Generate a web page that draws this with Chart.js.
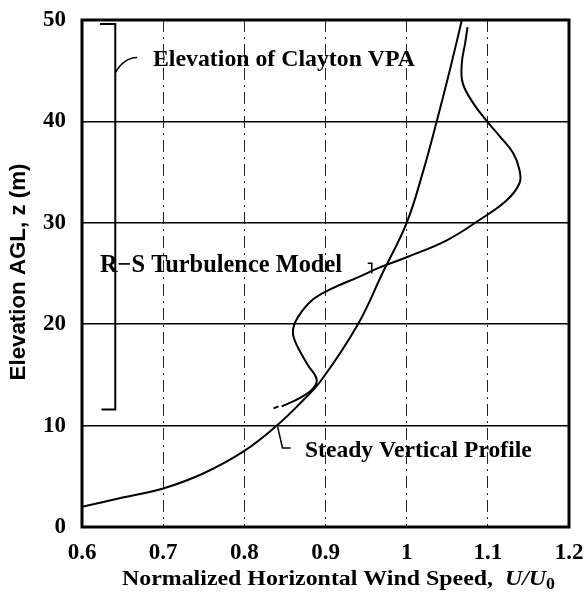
<!DOCTYPE html>
<html>
<head>
<meta charset="utf-8">
<script src="https://cdn.jsdelivr.net/npm/chart.js@4/dist/chart.umd.min.js"></script>
<style>
  html, body { margin: 0; padding: 0; background: #fff; }
  #wrap { width: 584px; height: 597px; }
</style>
</head>
<body>
<div id="wrap"><canvas id="grafico" width="584" height="597"></canvas></div>
<script>
// steady vertical profile (U/U0, z)
const steadyU = [0.6, 0.65, 0.7, 0.75, 0.8, 0.84, 0.87, 0.895, 0.94, 0.97, 1.0, 1.02, 1.037, 1.053, 1.068];
const steadyZ = [2.0, 2.9, 3.8, 5.3, 7.5, 10, 12.3, 14.5, 20, 25, 30, 35, 40, 45, 50];

// R-S turbulence model
const rsU = [0.846, 0.852, 0.868, 0.885, 0.889, 0.878, 0.862, 0.860, 0.866, 0.884, 0.905, 0.942, 0.967, 1.0, 1.05, 1.09, 1.123, 1.139, 1.139, 1.131, 1.115, 1.099, 1.082, 1.069, 1.068, 1.072, 1.075];
const rsZ = [11.9, 12.1, 12.7, 13.7, 14.6, 16.0, 18.4, 19.5, 20.7, 22.4, 23.4, 24.7, 25.6, 26.6, 28.3, 30.3, 32.2, 33.9, 35.2, 36.9, 38.5, 40, 41.8, 43.8, 45.8, 47.7, 49.3];
// short dash at the start of the R-S curve
const rsDashU = [0.836, 0.842];
const rsDashZ = [11.7, 11.9];

// bracket: elevation of Clayton VPA
const vpaU = [0.622, 0.641, 0.641, 0.624];
const vpaZ = [49.6, 49.6, 11.6, 11.6];

const xTicks = [0.6, 0.7, 0.8, 0.9, 1, 1.1, 1.2];
const yTicks = [0, 10, 20, 30, 40, 50];

const pts = (xs, ys) => xs.map((x, i) => ({ x: x, y: ys[i] }));

const serif = '"Liberation Serif", "DejaVu Serif", serif';
const sans = '"Liberation Sans", "DejaVu Sans", sans-serif';

// escreve o texto ajustando o tamanho da fonte a uma largura
function fitText(c, txt, x, y, largura, estilo, familia) {
  c.font = estilo + ' 20px ' + familia;
  const w = c.measureText(txt).width;
  const size = 20 * largura / w;
  c.font = estilo + ' ' + size.toFixed(1) + 'px ' + familia;
  c.fillText(txt, x, y);
  return size;
}

const extras = {
  id: 'extras',
  afterDraw(chart) {
    const c = chart.ctx;
    const sx = chart.scales.x, sy = chart.scales.y;
    const a = chart.chartArea;
    const px = v => sx.getPixelForValue(v), py = v => sy.getPixelForValue(v);
    c.save();
    // frame
    c.strokeStyle = '#000';
    c.lineWidth = 3;
    c.strokeRect(a.left, a.top, a.right - a.left, a.bottom - a.top);

    // leader lines
    c.lineWidth = 1.5;
    c.beginPath();
    c.moveTo(px(0.641), py(44.8));
    c.quadraticCurveTo(px(0.652), py(46.3), px(0.668), py(46.3));
    c.stroke();
    c.beginPath();
    c.moveTo(px(0.952), py(26.0));
    c.lineTo(px(0.957), py(26.0));
    c.lineTo(px(0.957), py(25.0));
    c.stroke();
    c.beginPath();
    c.moveTo(px(0.841), py(9.9));
    c.quadraticCurveTo(px(0.845), py(8.5), px(0.847), py(7.8));
    c.lineTo(px(0.857), py(7.8));
    c.stroke();

    // labels
    c.fillStyle = '#000';
    c.textBaseline = 'middle';
    c.textAlign = 'left';
    fitText(c, 'Elevation of Clayton VPA', 153, 60, 262, 'bold', serif);
    fitText(c, 'R\u2212S Turbulence Model', 100, 266, 242, 'bold', serif);
    fitText(c, 'Steady Vertical Profile', 305, 451, 227, 'bold', serif);

    // x axis title
    const y0 = 579;
    const t1 = 'Normalized Horizontal Wind Speed,  ';
    const fs = 22;
    c.font = 'bold ' + fs + 'px ' + serif;
    const w1 = c.measureText(t1).width;
    c.font = 'italic bold ' + fs + 'px ' + serif;
    const w2 = c.measureText('U/U').width;
    c.font = 'bold ' + (fs * 0.75) + 'px ' + serif;
    const w3 = c.measureText('0').width;
    const tot = w1 + w2 + w3;
    c.translate(122, 0);
    c.scale(433 / tot, 1);
    c.font = 'bold ' + fs + 'px ' + serif;
    c.fillText(t1, 0, y0);
    c.font = 'italic bold ' + fs + 'px ' + serif;
    c.fillText('U/U', w1, y0);
    c.font = 'bold ' + (fs * 0.75) + 'px ' + serif;
    c.fillText('0', w1 + w2, y0 + 6);
    c.setTransform(1, 0, 0, 1, 0, 0);

    // y axis title
    c.translate(19, 272);
    c.rotate(-Math.PI / 2);
    c.textAlign = 'center';
    fitText(c, 'Elevation AGL, z (m)', 0, 0, 217, 'bold', sans);
    c.restore();
  }
};

new Chart(document.getElementById('grafico').getContext('2d'), {
  type: 'scatter',
  data: {
    datasets: [
      { label: 'Steady Vertical Profile', data: pts(steadyU, steadyZ), showLine: true, tension: 0.4,
        borderColor: '#000', borderWidth: 2, pointRadius: 0 },
      { label: 'R-S Turbulence Model', data: pts(rsU, rsZ), showLine: true, tension: 0.4,
        borderColor: '#000', borderWidth: 2, pointRadius: 0 },
      { label: 'R-S start', data: pts(rsDashU, rsDashZ), showLine: true, tension: 0,
        borderColor: '#000', borderWidth: 2, pointRadius: 0 },
      { label: 'Elevation of Clayton VPA', data: pts(vpaU, vpaZ), showLine: true, tension: 0,
        borderColor: '#000', borderWidth: 2, pointRadius: 0 }
    ]
  },
  options: {
    responsive: false,
    animation: false,
    layout: { padding: { top: 20, right: 15, left: 0, bottom: 0 } },
    plugins: { legend: { display: false }, tooltip: { enabled: false } },
    scales: {
      x: {
        type: 'linear', min: 0.6, max: 1.2,
        afterFit(s) { s.height = 70; s.paddingLeft = 0; s.paddingRight = 0; },
        afterBuildTicks(s) { s.ticks = xTicks.map(v => ({ value: v })); },
        grid: { color: '#222', lineWidth: 1, drawTicks: false },
        border: { display: false, dash: [12, 5, 2, 5] },
        ticks: { color: '#000', padding: 12, font: { family: serif, size: 23, weight: 'bold' },
                 callback: v => String(v) }
      },
      y: {
        type: 'linear', min: 0, max: 50,
        afterFit(s) { s.width = 82; s.paddingTop = 0; s.paddingBottom = 0; },
        afterBuildTicks(s) { s.ticks = yTicks.map(v => ({ value: v })); },
        grid: { color: '#000', lineWidth: 1.5, drawTicks: false },
        border: { display: false },
        ticks: { color: '#000', padding: 16, font: { family: serif, size: 23, weight: 'bold' } }
      }
    }
  },
  plugins: [extras]
});
</script>
</body>
</html>
